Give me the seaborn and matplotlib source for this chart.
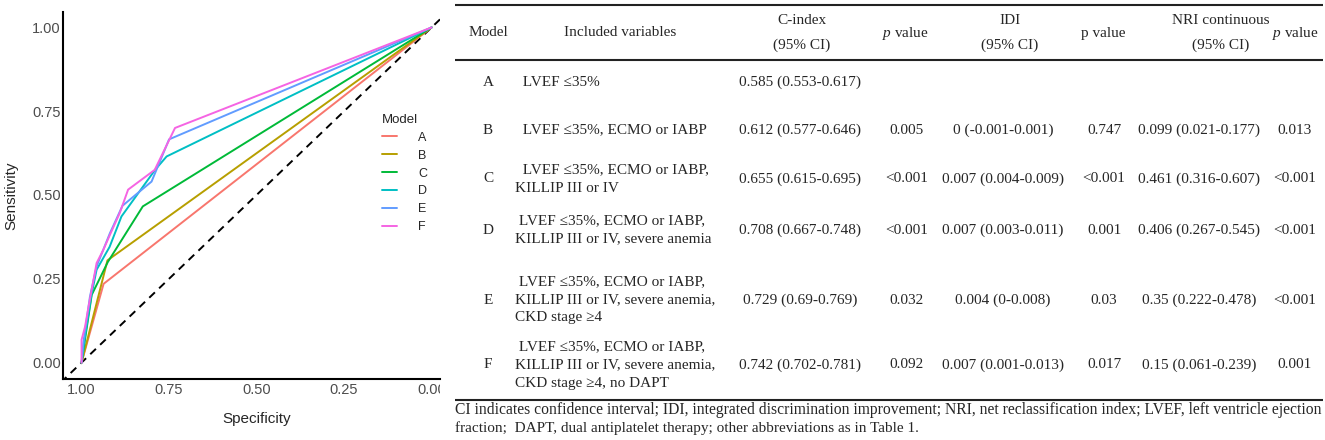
import numpy as np
import pandas as pd
import seaborn as sns
import matplotlib.pyplot as plt
from matplotlib.transforms import Bbox, TransformedBbox

# ROC points (specificity, sensitivity)
models = ["A", "B", "C", "D", "E", "F"]
spec_A = [1, 0.937, 0]
sens_A = [0, 0.235, 1]
spec_B = [1, 0.926, 0]
sens_B = [0, 0.305, 1]
spec_C = [1, 0.971, 0.925, 0.825, 0]
sens_C = [0, 0.202, 0.300, 0.466, 1]
spec_D = [1, 0.99, 0.972, 0.957, 0.92, 0.886, 0.79, 0.757, 0]
sens_D = [0, 0.08, 0.20, 0.277, 0.345, 0.436, 0.575, 0.615, 1]
spec_E = [1, 0.995, 0.976, 0.957, 0.919, 0.883, 0.80, 0.75, 0]
sens_E = [0, 0.058, 0.197, 0.287, 0.386, 0.468, 0.54, 0.666, 1]
spec_F = [1, 1, 0.99, 0.98, 0.957, 0.938, 0.919, 0.891, 0.867, 0.791, 0.733, 0]
sens_F = [0, 0.068, 0.107, 0.167, 0.297, 0.336, 0.381, 0.446, 0.516, 0.575, 0.70, 1]
palette = ["#F8766D", "#B79F00", "#00BA38", "#00BFC4", "#619CFF", "#F564E3"]

# table contents
variables = ["  LVEF \u226435%",
             "  LVEF \u226435%, ECMO or IABP",
             "  LVEF \u226435%, ECMO or IABP,\nKILLIP III or IV",
             " LVEF \u226435%, ECMO or IABP,\nKILLIP III or IV, severe anemia",
             " LVEF \u226435%, ECMO or IABP,\nKILLIP III or IV, severe anemia,\nCKD stage \u22654",
             " LVEF \u226435%, ECMO or IABP,\nKILLIP III or IV, severe anemia,\nCKD stage \u22654, no DAPT"]
cindex = ["0.585 (0.553-0.617)", "0.612 (0.577-0.646)", "0.655 (0.615-0.695)",
          "0.708 (0.667-0.748)", "0.729 (0.69-0.769)", "0.742 (0.702-0.781)"]
p_cindex = ["", "0.005", "<0.001", "<0.001", "0.032", "0.092"]
idi = ["", "0 (-0.001-0.001)", "0.007 (0.004-0.009)", "0.007 (0.003-0.011)",
       "0.004 (0-0.008)", "0.007 (0.001-0.013)"]
p_idi = ["", "0.747", "<0.001", "0.001", "0.03", "0.017"]
nri = ["", "0.099 (0.021-0.177)", "0.461 (0.316-0.607)", "0.406 (0.267-0.545)",
       "0.35 (0.222-0.478)", "0.15 (0.061-0.239)"]
p_nri = ["", "0.013", "<0.001", "<0.001", "<0.001", "0.001"]
footnote = ["CI indicates confidence interval; IDI, integrated discrimination improvement; "
            "NRI, net reclassification index; LVEF, left ventricle ejection",
            "fraction;  DAPT, dual antiplatelet therapy; other abbreviations as in Table 1."]

specs = [spec_A, spec_B, spec_C, spec_D, spec_E, spec_F]
senss = [sens_A, sens_B, sens_C, sens_D, sens_E, sens_F]
df = pd.concat([pd.DataFrame({"Specificity": s, "Sensitivity": t, "Model": m})
                for m, s, t in zip(models, specs, senss)], ignore_index=True)

sns.set_style("white")
plt.rcParams["font.family"] = ["Liberation Sans", "DejaVu Sans"]
plt.rcParams["mathtext.fontset"] = "custom"
plt.rcParams["mathtext.rm"] = "Liberation Serif"
plt.rcParams["mathtext.it"] = "Liberation Serif:italic"

W, H = 1325, 440
fig = plt.figure(figsize=(W / 100, H / 100), dpi=100)
ax = fig.add_axes([63 / W, 61 / H, (440 - 63) / W, (379 - 12) / H])

sns.lineplot(data=df, x="Specificity", y="Sensitivity", hue="Model", palette=palette,
             sort=False, estimator=None, lw=1.4, ax=ax)
ax.axline((1, 0), (0, 1), color="black", ls=(0, (4, 3)), lw=1.4, zorder=1)

ax.set_xlim(1.053, -0.024)
ax.set_ylim(-0.049, 1.046)
ticks = [1.0, 0.75, 0.5, 0.25, 0.0]
ax.set_xticks(ticks, ["%.2f" % t for t in ticks])
ax.set_yticks(ticks, ["%.2f" % t for t in ticks])
ax.tick_params(length=0, pad=1.5, labelsize=10.5, labelcolor="#4D4D4D")
ax.tick_params(axis="x", pad=3)
for s in ["top", "right"]:
    ax.spines[s].set_visible(False)
for s in ["left", "bottom"]:
    ax.spines[s].set_color("black")
    ax.spines[s].set_linewidth(1.5)
ax.set_xlabel("Specificity", fontsize=11, va="center")
ax.set_ylabel("Sensitivity", fontsize=11, va="center")
ax.xaxis.set_label_coords(0.515, -0.109)
ax.yaxis.set_label_coords(-0.138, 0.5)

handles, labels = ax.get_legend_handles_labels()
ax.legend(handles, labels, title="Model", loc="upper left",
          bbox_to_anchor=(382 / W, 1 - 114 / H), bbox_transform=fig.transFigure,
          frameon=False, fontsize=9, title_fontsize=9.5, handlelength=1.2,
          handletextpad=1.7, labelspacing=0.47, borderpad=0, borderaxespad=0,
          alignment="left")

# clip the cut-off tick label at the panel edge
fig.canvas.draw()
clip = TransformedBbox(Bbox([[0, 0], [440 / W, 1]]), fig.transFigure)
for lab in ax.get_xticklabels():
    lab.set_clip_on(True)
    lab.set_clip_box(clip)

# table panel, in pixel units
tb = fig.add_axes([440 / W, 0, (W - 440) / W, 1])
tb.set_xlim(440, W)
tb.set_ylim(H, 0)
tb.axis("off")
serif = ["Liberation Serif", "DejaVu Serif"]
fs = 11

tb.hlines([5, 60, 400], 455, 1323, color="#222222", lw=1.5)

col_x = {"model": 488, "var": 515, "c": 800, "pc": 907, "idi": 1003,
         "pidi": 1104, "nri": 1199, "pnri": 1295}
head_y = 33
heads = [(488, "Model"), (620, "Included variables"), (802, "C-index\n(95% CI)"),
         (905, "$p$ value"), (1010, "IDI\n(95% CI)"), (1103, "p value"),
         (1221, "NRI continuous\n(95% CI)"), (1295, "$p$ value")]
for x, t in heads:
    tb.text(x, head_y, t, ha="center", va="center", family=serif, fontsize=fs,
            linespacing=2.1)

row_y = [82, 130, 179, 230, 300, 365]
for i, y in enumerate(row_y):
    tb.text(col_x["model"], y, models[i], ha="center", va="center", family=serif, fontsize=fs)
    tb.text(col_x["var"], y, variables[i], ha="left", va="center", family=serif,
            fontsize=fs, linespacing=1.5, multialignment="left")
    for key, vals in [("c", cindex), ("pc", p_cindex), ("idi", idi), ("pidi", p_idi),
                      ("nri", nri), ("pnri", p_nri)]:
        tb.text(col_x[key], y, vals[i], ha="center", va="center", family=serif, fontsize=fs)

tb.text(455, 410, footnote[0], ha="left", va="center", family=serif, fontsize=11.26)
tb.text(455, 428, footnote[1], ha="left", va="center", family=serif, fontsize=fs)

fig.savefig("out.png", dpi=100)
